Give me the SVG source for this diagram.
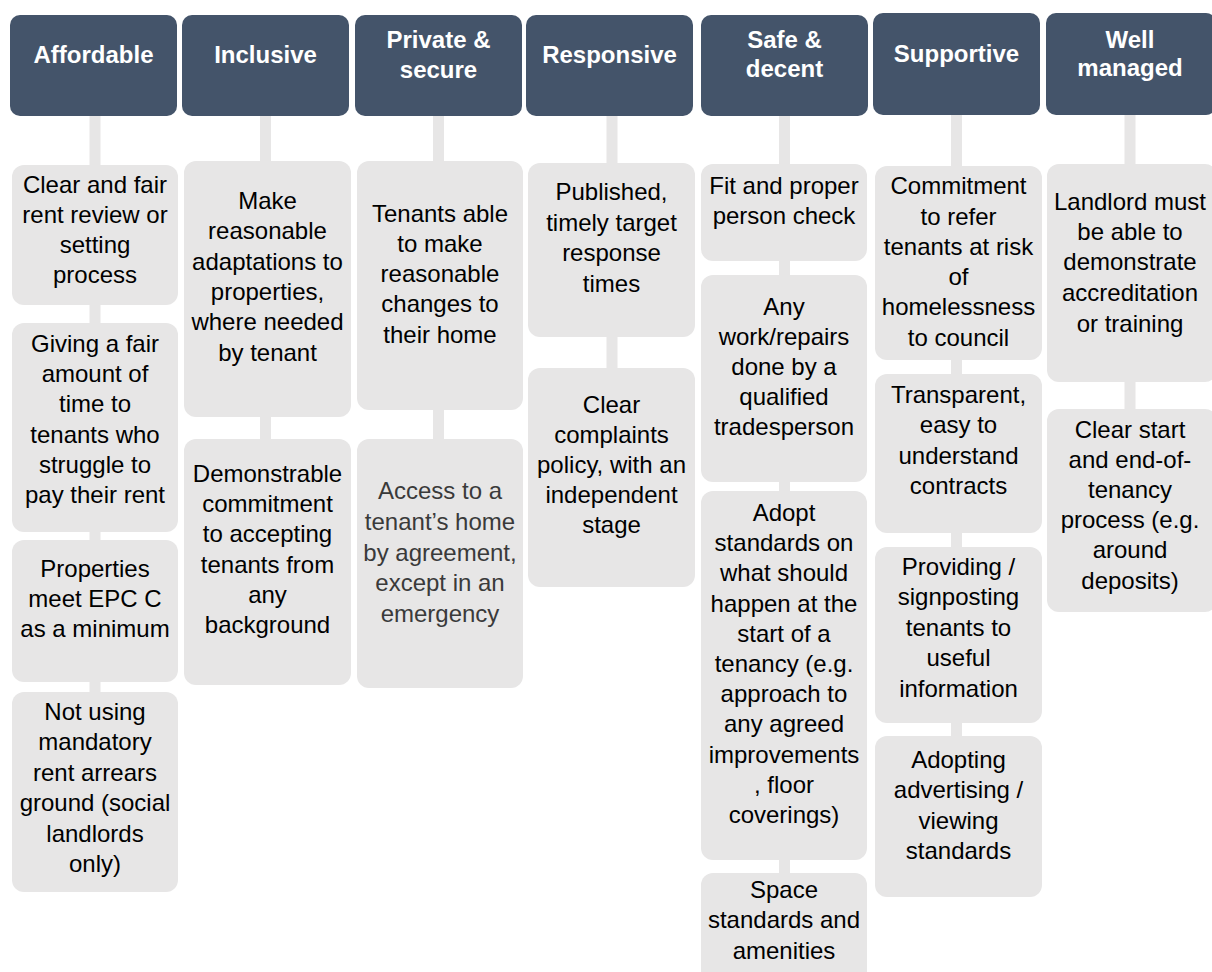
<svg xmlns="http://www.w3.org/2000/svg" width="1212" height="972" viewBox="0 0 1212 972">
  <style>
    .hdr { fill: #44546a; }
    .box { fill: #e7e6e6; }
    .conn { stroke: #e7e6e6; stroke-width: 11; fill: none; }
    .ht { font-family: "Liberation Sans", Arial, sans-serif; font-size: 24px; font-weight: bold; fill: #ffffff; text-anchor: middle; }
    .bt { font-family: "Liberation Sans", Arial, sans-serif; font-size: 24px; fill: #000000; text-anchor: middle; }
    .soft { fill: #3a3a3a; }
  </style>
  <rect width="1212" height="972" fill="#ffffff"/>

  <!-- connectors: header to first item, then item to item -->
  <g id="connectors">
    <path class="conn" d="M95 116V165M95 305V323M95 532V540M95 682V692"/>
    <path class="conn" d="M265.5 116V161M265.5 417V439"/>
    <path class="conn" d="M438.5 116V161M438.5 410V439"/>
    <path class="conn" d="M612 116V163M612 337V368"/>
    <path class="conn" d="M784.5 116V164M784.5 261V275M784.5 482V491M784.5 860V873"/>
    <path class="conn" d="M956.5 115V166M956.5 360V374M956.5 533V547M956.5 723V736"/>
    <path class="conn" d="M1130 115V164M1130 382V409"/>
  </g>

  <!-- Affordable -->
  <g id="affordable">
    <rect class="hdr" x="10" y="15" width="167" height="101" rx="10"/>
    <text class="ht" x="93.5" y="63">Affordable</text>
  </g>
  <g id="affordable-1">
    <rect class="box" x="12" y="165" width="166" height="140" rx="12"/>
    <text class="bt"><tspan x="95" y="193">Clear and fair</tspan><tspan x="95" y="223">rent review or</tspan><tspan x="95" y="253">setting</tspan><tspan x="95" y="283">process</tspan></text>
  </g>
  <g id="affordable-2">
    <rect class="box" x="12" y="323" width="166" height="209" rx="12"/>
    <text class="bt"><tspan x="95" y="352">Giving a fair</tspan><tspan x="95" y="382">amount of</tspan><tspan x="95" y="412">time to</tspan><tspan x="95" y="443">tenants who</tspan><tspan x="95" y="473">struggle to</tspan><tspan x="95" y="503">pay their rent</tspan></text>
  </g>
  <g id="affordable-3">
    <rect class="box" x="12" y="540" width="166" height="142" rx="12"/>
    <text class="bt"><tspan x="95" y="577">Properties</tspan><tspan x="95" y="607">meet EPC C</tspan><tspan x="95" y="637">as a minimum</tspan></text>
  </g>
  <g id="affordable-4">
    <rect class="box" x="12" y="692" width="166" height="200" rx="12"/>
    <text class="bt"><tspan x="95" y="720">Not using</tspan><tspan x="95" y="750">mandatory</tspan><tspan x="95" y="781">rent arrears</tspan><tspan x="95" y="811">ground (social</tspan><tspan x="95" y="842">landlords</tspan><tspan x="95" y="872">only)</tspan></text>
  </g>

  <!-- Inclusive -->
  <g id="inclusive">
    <rect class="hdr" x="182" y="15" width="167" height="101" rx="10"/>
    <text class="ht" x="265.5" y="63">Inclusive</text>
  </g>
  <g id="inclusive-1">
    <rect class="box" x="184" y="161" width="167" height="256" rx="12"/>
    <text class="bt"><tspan x="267.5" y="209">Make</tspan><tspan x="267.5" y="239">reasonable</tspan><tspan x="267.5" y="270">adaptations to</tspan><tspan x="267.5" y="300">properties,</tspan><tspan x="267.5" y="330">where needed</tspan><tspan x="267.5" y="361">by tenant</tspan></text>
  </g>
  <g id="inclusive-2">
    <rect class="box" x="184" y="439" width="167" height="246" rx="12"/>
    <text class="bt"><tspan x="267.5" y="482">Demonstrable</tspan><tspan x="267.5" y="512">commitment</tspan><tspan x="267.5" y="542">to accepting</tspan><tspan x="267.5" y="573">tenants from</tspan><tspan x="267.5" y="603">any</tspan><tspan x="267.5" y="633">background</tspan></text>
  </g>

  <!-- Private & secure -->
  <g id="private-secure">
    <rect class="hdr" x="355" y="15" width="167" height="101" rx="10"/>
    <text class="ht"><tspan x="438.5" y="48">Private &amp;</tspan><tspan x="438.5" y="78">secure</tspan></text>
  </g>
  <g id="private-secure-1">
    <rect class="box" x="357" y="161" width="166" height="249" rx="12"/>
    <text class="bt"><tspan x="440" y="222">Tenants able</tspan><tspan x="440" y="252">to make</tspan><tspan x="440" y="282">reasonable</tspan><tspan x="440" y="312">changes to</tspan><tspan x="440" y="343">their home</tspan></text>
  </g>
  <g id="private-secure-2">
    <rect class="box" x="357" y="439" width="166" height="249" rx="12"/>
    <text class="bt soft"><tspan x="440" y="499">Access to a</tspan><tspan x="440" y="530">tenant’s home</tspan><tspan x="440" y="561">by agreement,</tspan><tspan x="440" y="591">except in an</tspan><tspan x="440" y="622">emergency</tspan></text>
  </g>

  <!-- Responsive -->
  <g id="responsive">
    <rect class="hdr" x="526" y="15" width="167" height="101" rx="10"/>
    <text class="ht" x="609.5" y="63">Responsive</text>
  </g>
  <g id="responsive-1">
    <rect class="box" x="528" y="163" width="167" height="174" rx="12"/>
    <text class="bt"><tspan x="611.5" y="200">Published,</tspan><tspan x="611.5" y="231">timely target</tspan><tspan x="611.5" y="261">response</tspan><tspan x="611.5" y="292">times</tspan></text>
  </g>
  <g id="responsive-2">
    <rect class="box" x="528" y="368" width="167" height="219" rx="12"/>
    <text class="bt"><tspan x="611.5" y="413">Clear</tspan><tspan x="611.5" y="443">complaints</tspan><tspan x="611.5" y="473">policy, with an</tspan><tspan x="611.5" y="503">independent</tspan><tspan x="611.5" y="533">stage</tspan></text>
  </g>

  <!-- Safe & decent -->
  <g id="safe-decent">
    <rect class="hdr" x="701" y="15" width="167" height="101" rx="10"/>
    <text class="ht"><tspan x="784.5" y="48">Safe &amp;</tspan><tspan x="784.5" y="77">decent</tspan></text>
  </g>
  <g id="safe-decent-1">
    <rect class="box" x="701" y="164" width="166" height="97" rx="12"/>
    <text class="bt"><tspan x="784" y="194">Fit and proper</tspan><tspan x="784" y="224">person check</tspan></text>
  </g>
  <g id="safe-decent-2">
    <rect class="box" x="701" y="275" width="166" height="207" rx="12"/>
    <text class="bt"><tspan x="784" y="315">Any</tspan><tspan x="784" y="345">work/repairs</tspan><tspan x="784" y="375">done by a</tspan><tspan x="784" y="405">qualified</tspan><tspan x="784" y="435">tradesperson</tspan></text>
  </g>
  <g id="safe-decent-3">
    <rect class="box" x="701" y="491" width="166" height="369" rx="12"/>
    <text class="bt"><tspan x="784" y="521">Adopt</tspan><tspan x="784" y="551">standards on</tspan><tspan x="784" y="581">what should</tspan><tspan x="784" y="612">happen at the</tspan><tspan x="784" y="642">start of a</tspan><tspan x="784" y="672">tenancy (e.g.</tspan><tspan x="784" y="702">approach to</tspan><tspan x="784" y="732">any agreed</tspan><tspan x="784" y="763">improvements</tspan><tspan x="784" y="793">, floor</tspan><tspan x="784" y="823">coverings)</tspan></text>
  </g>
  <g id="safe-decent-4">
    <rect class="box" x="701" y="873" width="166" height="112" rx="12"/>
    <text class="bt"><tspan x="784" y="898">Space</tspan><tspan x="784" y="928">standards and</tspan><tspan x="784" y="959">amenities</tspan></text>
  </g>

  <!-- Supportive -->
  <g id="supportive">
    <rect class="hdr" x="873" y="13" width="167" height="102" rx="10"/>
    <text class="ht" x="956.5" y="62">Supportive</text>
  </g>
  <g id="supportive-1">
    <rect class="box" x="875" y="166" width="167" height="194" rx="12"/>
    <text class="bt"><tspan x="958.5" y="194">Commitment</tspan><tspan x="958.5" y="225">to refer</tspan><tspan x="958.5" y="255">tenants at risk</tspan><tspan x="958.5" y="285">of</tspan><tspan x="958.5" y="315">homelessness</tspan><tspan x="958.5" y="346">to council</tspan></text>
  </g>
  <g id="supportive-2">
    <rect class="box" x="875" y="374" width="167" height="159" rx="12"/>
    <text class="bt"><tspan x="958.5" y="403">Transparent,</tspan><tspan x="958.5" y="433">easy to</tspan><tspan x="958.5" y="464">understand</tspan><tspan x="958.5" y="494">contracts</tspan></text>
  </g>
  <g id="supportive-3">
    <rect class="box" x="875" y="547" width="167" height="176" rx="12"/>
    <text class="bt"><tspan x="958.5" y="575">Providing /</tspan><tspan x="958.5" y="605">signposting</tspan><tspan x="958.5" y="636">tenants to</tspan><tspan x="958.5" y="666">useful</tspan><tspan x="958.5" y="697">information</tspan></text>
  </g>
  <g id="supportive-4">
    <rect class="box" x="875" y="736" width="167" height="161" rx="12"/>
    <text class="bt"><tspan x="958.5" y="768">Adopting</tspan><tspan x="958.5" y="798">advertising /</tspan><tspan x="958.5" y="829">viewing</tspan><tspan x="958.5" y="859">standards</tspan></text>
  </g>

  <!-- Well managed -->
  <g id="well-managed">
    <rect class="hdr" x="1046" y="13" width="170" height="102" rx="10"/>
    <text class="ht"><tspan x="1130" y="48">Well</tspan><tspan x="1130" y="76">managed</tspan></text>
  </g>
  <g id="well-managed-1">
    <rect class="box" x="1047" y="164" width="170" height="218" rx="12"/>
    <text class="bt"><tspan x="1130" y="210">Landlord must</tspan><tspan x="1130" y="240">be able to</tspan><tspan x="1130" y="270">demonstrate</tspan><tspan x="1130" y="301">accreditation</tspan><tspan x="1130" y="332">or training</tspan></text>
  </g>
  <g id="well-managed-2">
    <rect class="box" x="1047" y="409" width="170" height="203" rx="12"/>
    <text class="bt"><tspan x="1130" y="438">Clear start</tspan><tspan x="1130" y="468">and end-of-</tspan><tspan x="1130" y="498">tenancy</tspan><tspan x="1130" y="528">process (e.g.</tspan><tspan x="1130" y="558">around</tspan><tspan x="1130" y="589">deposits)</tspan></text>
  </g>
</svg>
